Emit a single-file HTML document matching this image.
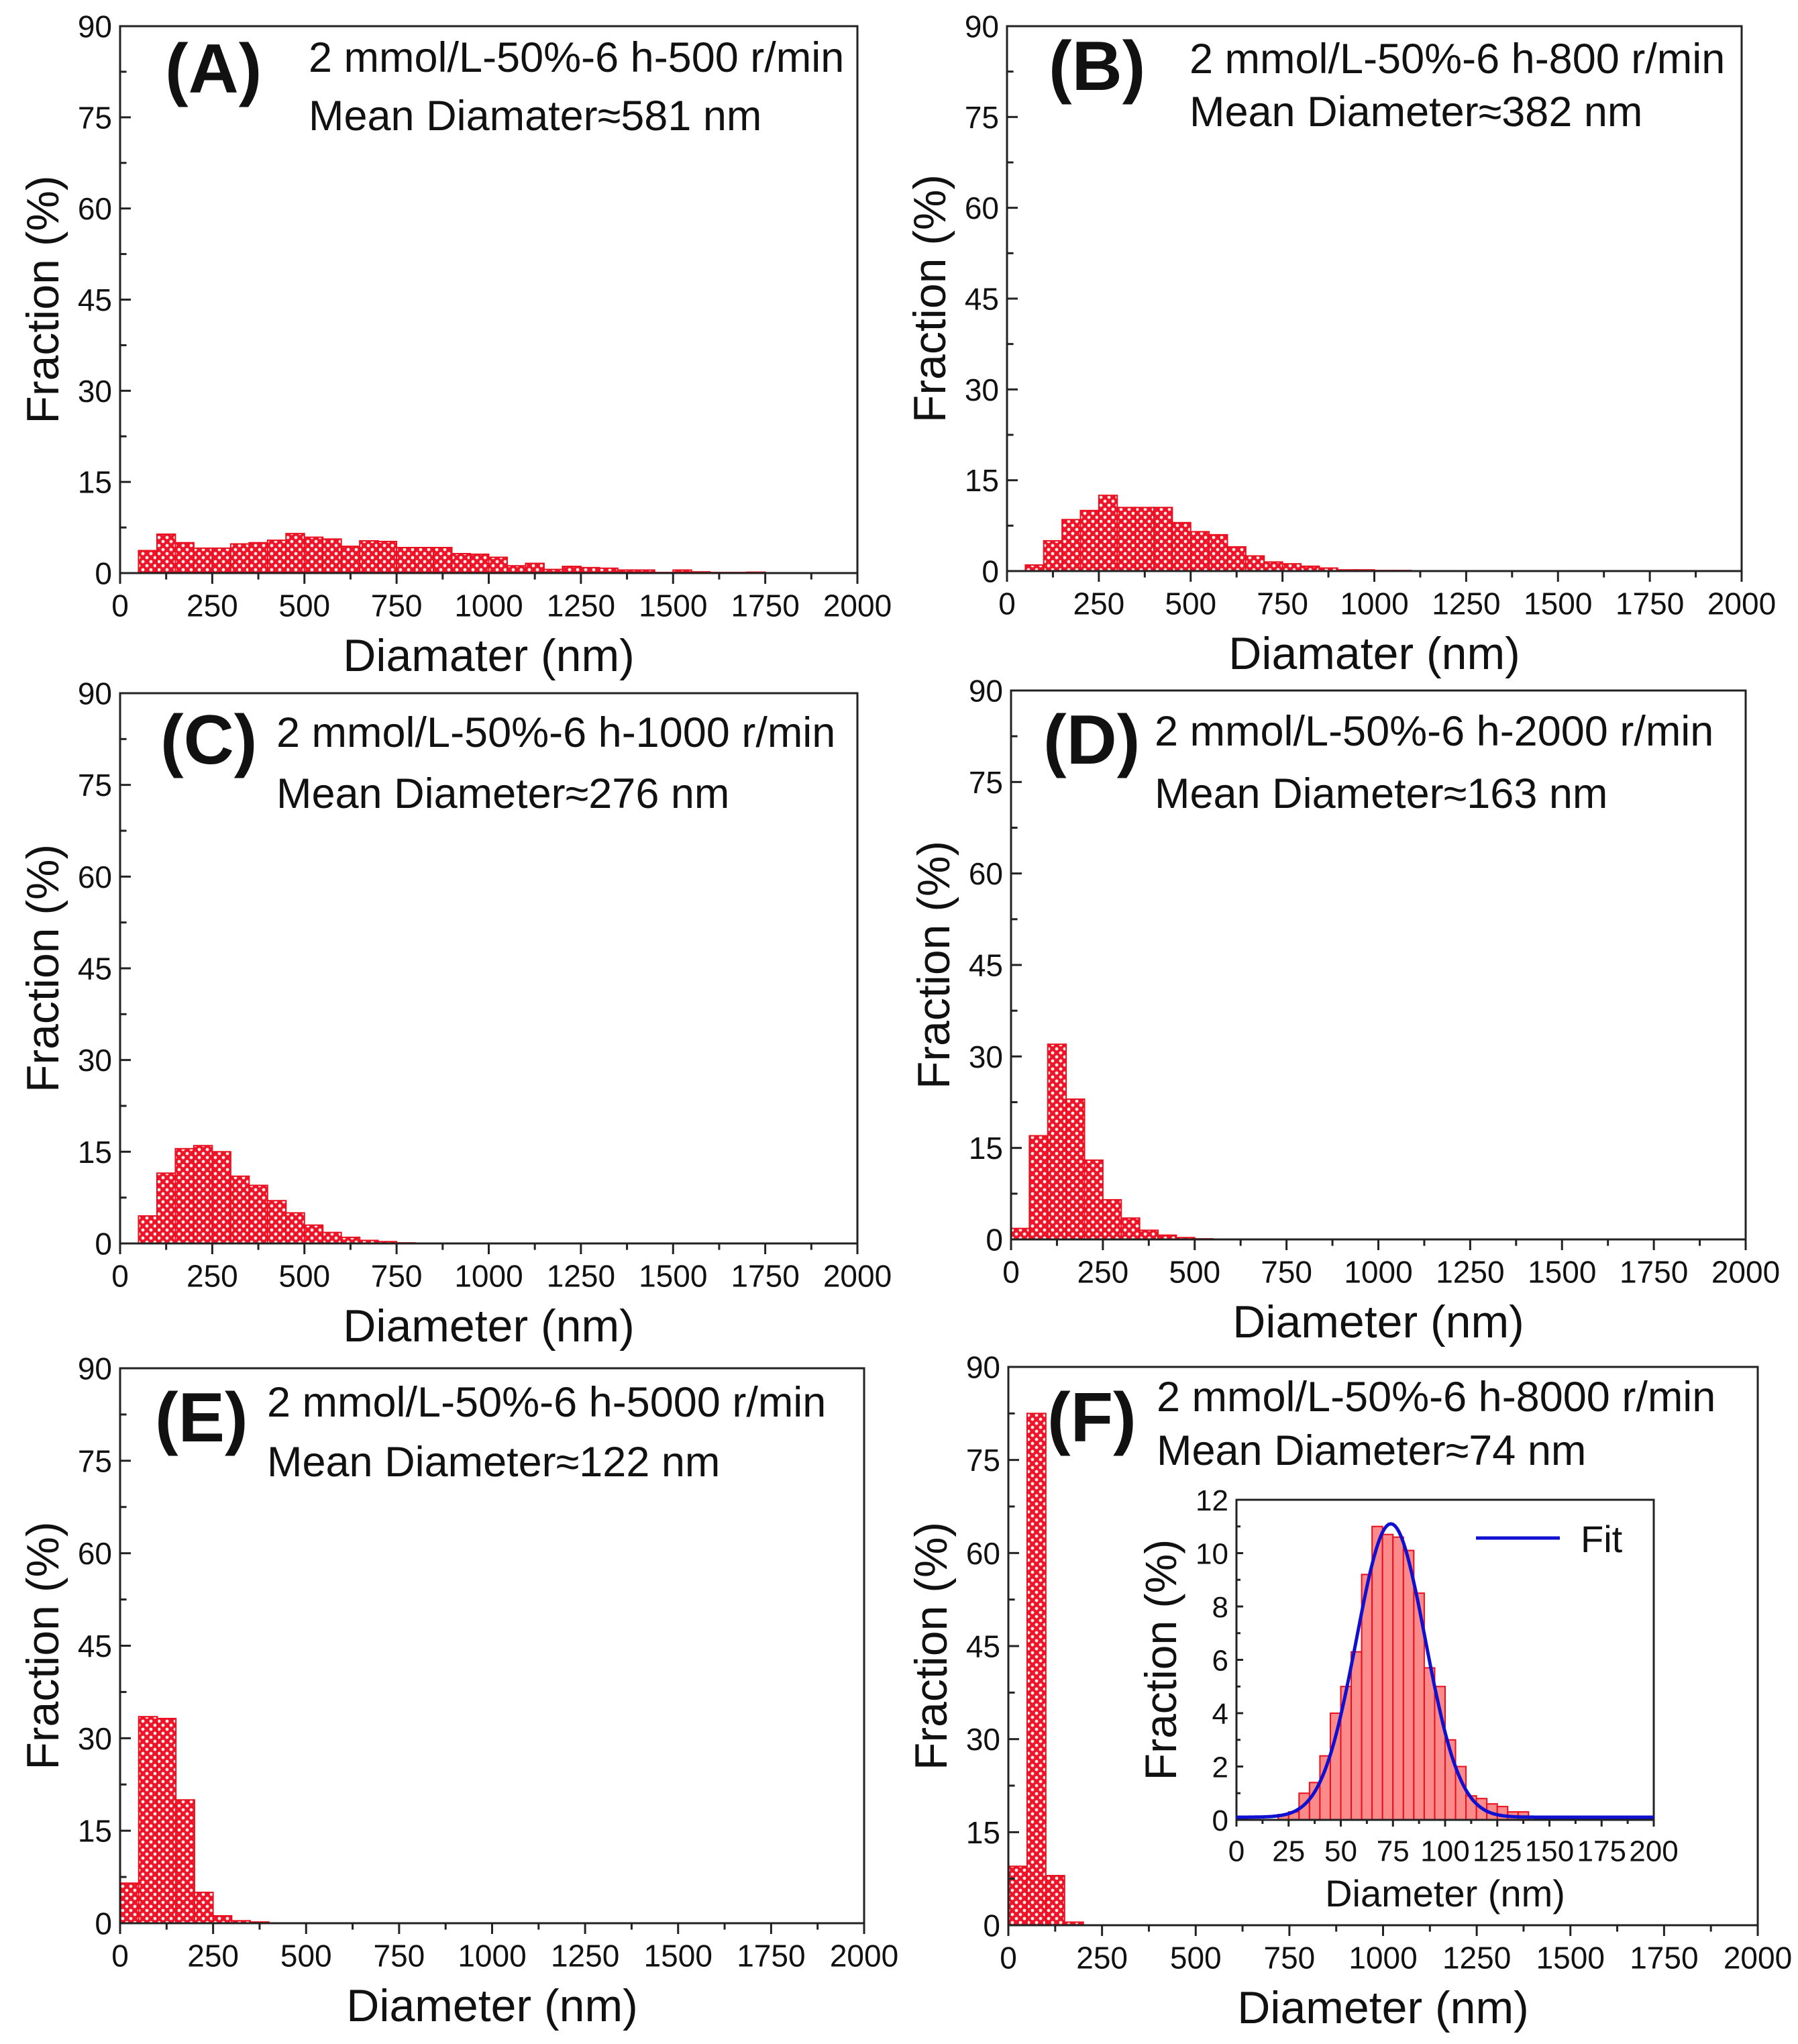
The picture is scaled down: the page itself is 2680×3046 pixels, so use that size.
<!DOCTYPE html>
<html><head><meta charset="utf-8"><style>
html,body{margin:0;padding:0;background:#fff;}
svg{display:block;font-family:"Liberation Sans",Arial,sans-serif;}
</style></head><body>
<svg id="fig" width="2680" height="3046" viewBox="0 0 2680 3046" xmlns="http://www.w3.org/2000/svg">
<defs>
<pattern id="hatch" patternUnits="userSpaceOnUse" width="12" height="12">
<rect width="12" height="12" fill="#f0142a"/>
<circle cx="3" cy="3" r="2.4" fill="#fff0ea"/>
<circle cx="9" cy="9" r="2.4" fill="#fff0ea"/>
</pattern>
</defs>
</svg>
<script>
// ---- data ----
const binsA = [50,100,150,200,250,300,350,400,450,500,550,600,650,700,750,800,850,900,950,1000,1050,1100,1150,1200,1250,1300,1350,1400,1450,1500,1550,1600,1650,1700];
const valsA = [3.7,6.4,5.0,4.1,4.1,4.8,5.0,5.4,6.5,5.9,5.6,4.4,5.3,5.2,4.2,4.2,4.2,3.2,3.1,2.6,1.2,1.6,0.6,1.1,0.9,0.8,0.5,0.5,0.1,0.5,0.2,0.1,0.1,0.15];
const binsB = [50,100,150,200,250,300,350,400,450,500,550,600,650,700,750,800,850,900,950,1000,1050];
const valsB = [1.0,5.0,8.5,10.0,12.5,10.5,10.5,10.5,8.0,6.5,6.0,4.0,2.5,1.5,1.2,0.8,0.5,0.2,0.2,0.1,0.1];
const binsC = [50,100,150,200,250,300,350,400,450,500,550,600,650,700,750];
const valsC = [4.5,11.5,15.5,16.0,15.0,11.0,9.5,7.0,5.0,3.0,1.8,1.0,0.5,0.3,0.1];
const binsD = [0,50,100,150,200,250,300,350,400,450,500];
const valsD = [1.8,17.0,32.0,23.0,13.0,6.5,3.5,1.5,0.7,0.3,0.1];
const binsE = [0,50,100,150,200,250,300,350];
const valsE = [6.5,33.5,33.2,20.0,5.0,1.2,0.4,0.2];
const binsF = [0,50,100,150];
const valsF = [9.5,82.5,8.0,0.5];
const binsInset = [20,25,30,35,40,45,50,55,60,65,70,75,80,85,90,95,100,105,110,115,120,125,130,135];
const valsInset = [0.2,0.3,1.0,1.4,2.4,4.0,5.0,6.3,9.2,11.0,10.7,10.6,10.1,8.5,5.7,5.0,3.0,2.0,0.9,0.8,0.6,0.5,0.3,0.3];
const fitParams = [74, 16.5, 11.0, 0.1]; // mean, sigma, amplitude, baseline
const xTicksMain = ["0","250","500","750","1000","1250","1500","1750","2000"];
const yTicksMain = ["0","15","30","45","60","75","90"];
const xTicksInset = ["0","25","50","75","100","125","150","175","200"];
const yTicksInset = ["0","2","4","6","8","10","12"];

const NS = "http://www.w3.org/2000/svg";
const svg = document.getElementById('fig');
function mk(tag, attrs, parent, text){
  const e = document.createElementNS(NS, tag);
  for (const k in attrs) e.setAttribute(k, attrs[k]);
  if (text !== undefined) e.textContent = text;
  (parent||svg).appendChild(e);
  return e;
}

const panels = [
 {id:'a', L:179, R:1278, T:39, B:854, bins:binsA, vals:valsA, letter:'(A)', lx:246, ly:138, tx:460, t1y:107, t2y:194,
  t1:'2 mmol/L-50%-6 h-500 r/min', t2:'Mean Diamater≈581 nm', xt:'Diamater (nm)'},
 {id:'b', L:1501, R:2596, T:39, B:851, bins:binsB, vals:valsB, letter:'(B)', lx:1563, ly:134, tx:1773, t1y:109, t2y:188,
  t1:'2 mmol/L-50%-6 h-800 r/min', t2:'Mean Diameter≈382 nm', xt:'Diamater (nm)'},
 {id:'c', L:179, R:1278, T:1033, B:1853, bins:binsC, vals:valsC, letter:'(C)', lx:239, ly:1138, tx:412, t1y:1113, t2y:1204,
  t1:'2 mmol/L-50%-6 h-1000 r/min', t2:'Mean Diameter≈276 nm', xt:'Diameter (nm)'},
 {id:'d', L:1507, R:2602, T:1029, B:1847, bins:binsD, vals:valsD, letter:'(D)', lx:1555, ly:1138, tx:1721, t1y:1111, t2y:1204,
  t1:'2 mmol/L-50%-6 h-2000 r/min', t2:'Mean Diameter≈163 nm', xt:'Diameter (nm)'},
 {id:'e', L:179, R:1288, T:2039, B:2866, bins:binsE, vals:valsE, letter:'(E)', lx:231, ly:2148, tx:398, t1y:2111, t2y:2200,
  t1:'2 mmol/L-50%-6 h-5000 r/min', t2:'Mean Diameter≈122 nm', xt:'Diameter (nm)'},
 {id:'f', L:1503, R:2620, T:2037, B:2869, bins:binsF, vals:valsF, letter:'(F)', lx:1561, ly:2148, tx:1724, t1y:2103, t2y:2183,
  t1:'2 mmol/L-50%-6 h-8000 r/min', t2:'Mean Diameter≈74 nm', xt:'Diameter (nm)'}
];

function drawAxes(g, p, xmax, ymax, xt, yt, binW, fs, tfs, ytfs, xtitle, ytitleX, minorX){
  const xs = v => p.L + (v / xmax) * (p.R - p.L);
  const ys = v => p.B - (v / ymax) * (p.B - p.T);
  p.bins.forEach((b, i) => {
    const r = mk('rect', {x: xs(b), y: ys(p.vals[i]), width: xs(b+binW)-xs(b), height: ys(0)-ys(p.vals[i]),
      fill: p.fillId, stroke: '#e8101e', 'stroke-width': 2}, g);
    
    
  });
  const fr = mk('rect', {x:p.L, y:p.T, width:p.R-p.L, height:p.B-p.T, fill:'none', stroke:'#222', 'stroke-width':3}, g);
  
  
  const xstep = xmax / (xt.length - 1), ystep = ymax / (yt.length - 1);
  xt.forEach((lab, i) => {
    const x = xs(i * xstep);
    mk('line', {x1:x, x2:x, y1:p.B, y2:p.B + p.tickLen, stroke:'#222', 'stroke-width':3}, g);
    if (i < xt.length - 1 && minorX) { const xm = xs((i + 0.5) * xstep);
      mk('line', {x1:xm, x2:xm, y1:p.B, y2:p.B + p.tickLen*0.6, stroke:'#222', 'stroke-width':3}, g); }
    const t = mk('text', {x:x, y:p.B + fs*1.4, 'font-size':fs, 'text-anchor':'middle', fill:'#111'}, g, lab);
    
    
  });
  yt.forEach((lab, i) => {
    const y = ys(i * ystep);
    mk('line', {x1:p.L, x2:p.L + p.tickLen, y1:y, y2:y, stroke:'#222', 'stroke-width':3}, g);
    if (i < yt.length - 1) { const ym = ys((i + 0.5) * ystep);
      mk('line', {x1:p.L, x2:p.L + p.tickLen*0.6, y1:ym, y2:ym, stroke:'#222', 'stroke-width':3}, g); }
    const t = mk('text', {x:p.L - 12, y:y + fs*0.36, 'font-size':fs, 'text-anchor':'end', fill:'#111'}, g, lab);
    
    
  });
  const xtl = mk('text', {x:(p.L + p.R)/2, y:p.B + fs*1.4 + tfs*1.2, 'font-size':tfs, 'text-anchor':'middle', fill:'#111'}, g, xtitle);
  
  
  const cy = (p.T + p.B)/2;
  const ytl = mk('text', {x:ytitleX, y:cy, 'font-size':ytfs, 'text-anchor':'middle', fill:'#111',
    transform:'rotate(-90 ' + ytitleX + ' ' + cy + ')'}, g, 'Fraction (%)');
  
  
  return {xs, ys};
}

panels.forEach(p => {
  const g = mk('g', {});
  
  
  p.fillId = 'url(#hatch)';
  p.tickLen = 16;
  drawAxes(g, p, 2000, 90, xTicksMain, yTicksMain, 50, 46, 68, 68, p.xt, p.L - 92, true);
  const lt = mk('text', {x:p.lx, y:p.ly, 'font-size':104, 'font-weight':'bold', fill:'#111'}, g, p.letter);
  
  
  const a1 = mk('text', {x:p.tx, y:p.t1y, 'font-size':63, fill:'#111'}, g, p.t1);
  
  
  const a2 = mk('text', {x:p.tx, y:p.t2y, 'font-size':63, fill:'#111'}, g, p.t2);
  
  
});

// inset
const ig = mk('g', {});


const ip = {L:1843, R:2465, T:2235, B:2712, bins:binsInset, vals:valsInset, fillId:'#fb8a8a', tickLen:10};
mk('rect', {x:ip.L, y:ip.T, width:ip.R-ip.L, height:ip.B-ip.T, fill:'#fff'}, ig);
const ax = drawAxes(ig, ip, 200, 12, xTicksInset, yTicksInset, 5, 44, 56, 66, 'Diameter (nm)', ip.L - 90, true);
let d = '';
for (let v = 0; v <= 200; v += 1) {
  const y = fitParams[3] + fitParams[2] * Math.exp(-0.5 * Math.pow((v - fitParams[0]) / fitParams[1], 2));
  d += (v === 0 ? 'M' : 'L') + ax.xs(v).toFixed(1) + ' ' + ax.ys(y).toFixed(1);
}
const fit = mk('path', {d:d, fill:'none', stroke:'#1010d0', 'stroke-width':5}, ig);


const lg = mk('g', {}, ig);


mk('line', {x1:2200, x2:2325, y1:2292, y2:2292, stroke:'#1010d0', 'stroke-width':5}, lg);
mk('text', {x:2356, y:2313, 'font-size':56, fill:'#111'}, lg, 'Fit');
</script>
</body></html>
